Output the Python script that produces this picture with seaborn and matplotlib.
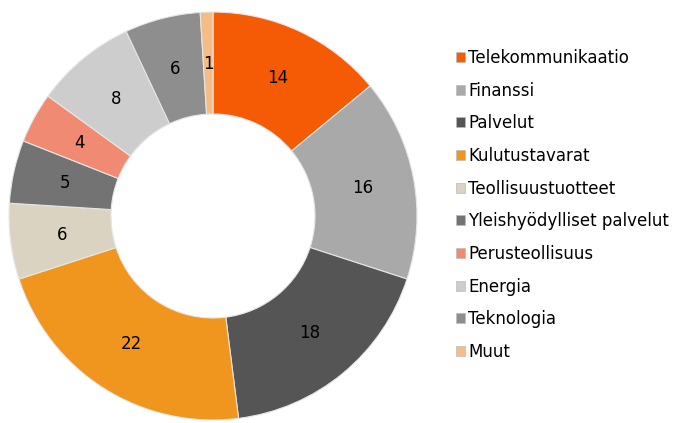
import matplotlib
matplotlib.use("Agg")
import matplotlib.pyplot as plt
import matplotlib.patches as mpatches
import numpy as np
import seaborn as sns

sectors = ["Telekommunikaatio", "Finanssi", "Palvelut", "Kulutustavarat",
           "Teollisuustuotteet", "Yleishyödylliset palvelut", "Perusteollisuus",
           "Energia", "Teknologia", "Muut"]
shares = [14, 16, 18, 22, 6, 5, 4, 8, 6, 1]
colors = ["#F55A05", "#A9A9A9", "#555555", "#F0961E", "#DAD3C2",
          "#737373", "#F08A72", "#CDCDCD", "#8E8E8E", "#F6BC85"]

sns.set_theme(style="white")
plt.rcParams['font.family'] = ['DejaVu Sans']
plt.rcParams['text.color'] = 'black'

fig = plt.figure(figsize=(6.76, 4.23), dpi=100)
ax = fig.add_axes([8 / 676, 2 / 423, 410 / 676, 410 / 423])

wedges, texts = ax.pie(shares, colors=colors, startangle=90, counterclock=False,
                       wedgeprops=dict(width=0.5, edgecolor="#e6e6e6", linewidth=0.8))
for w, v in zip(wedges, shares):
    ang = np.deg2rad((w.theta1 + w.theta2) / 2)
    ax.text(0.745 * np.cos(ang), 0.745 * np.sin(ang), str(v),
            ha="center", va="center", fontsize=12, color="black")
ax.set_xlim(-1.005, 1.005)
ax.set_ylim(-1.005, 1.005)
ax.set_aspect("equal")

handles = [mpatches.Rectangle((0, 0), 1, 1, facecolor=c, edgecolor="#bbbbbb", linewidth=0.5)
           for c in colors]
fig.legend(handles, sectors, loc="upper left", bbox_to_anchor=(456 / 676, 1 - 49 / 423),
           frameon=False, fontsize=12, handlelength=0.55, handleheight=0.55,
           handletextpad=0.2, labelspacing=0.88, borderaxespad=0, borderpad=0,
           labelcolor="black")

fig.savefig("out.png", dpi=100)
